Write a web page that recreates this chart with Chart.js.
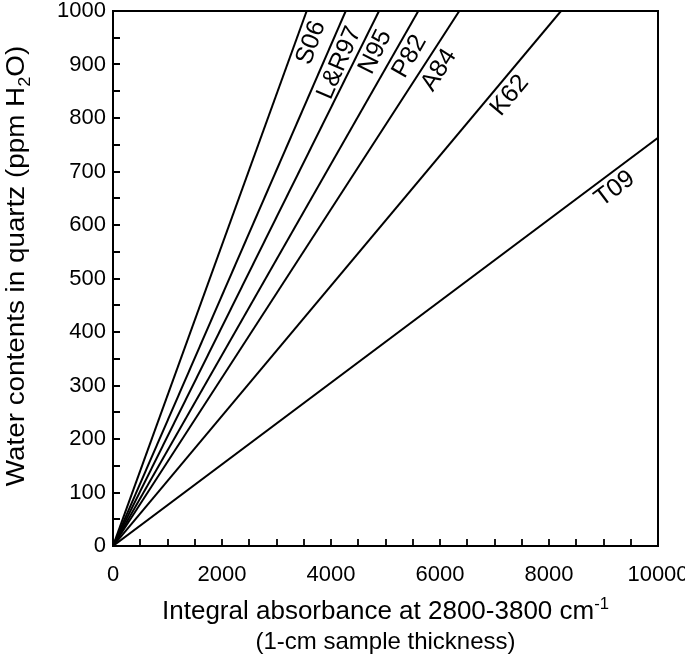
<!DOCTYPE html>
<html>
<head>
<meta charset="utf-8">
<script src="https://cdn.jsdelivr.net/npm/chart.js@4/dist/chart.umd.min.js"></script>
<style>
  html, body { margin: 0; padding: 0; background: #fff; }
  #wrap { width: 685px; height: 666px; }
</style>
</head>
<body>
<div id="wrap"><canvas id="c" width="685" height="666"></canvas></div>
<script>
// ---- data ----
const seriesNames = ['S06', 'L&R97', 'N95', 'P82', 'A84', 'K62', 'T09'];
// end point of each calibration line (start point is the origin)
const endX = [3554, 4270, 4881, 5602, 6354, 8220, 10000];
const endY = [1000, 1000, 1000, 1000, 1000, 1000, 763];
// label anchor along each line, in water-content units
const labelAtY = [950, 914, 936, 929, 905, 860, 690];

const xTickLabels = [0, 2000, 4000, 6000, 8000, 10000];
const yTickLabels = [0, 100, 200, 300, 400, 500, 600, 700, 800, 900, 1000];
const xMinorStep = 500;
const yMinorStep = 50;

const FONT = "'Liberation Sans', Arial, Helvetica, sans-serif";

const datasets = seriesNames.map((name, i) => ({
  label: name,
  data: [{ x: 0, y: 0 }, { x: endX[i], y: endY[i] }],
  borderColor: '#000',
  borderWidth: 2,
  pointRadius: 0,
  fill: false,
  tension: 0
}));

function drawRich(ctx, parts, cx, cy, baseSize, stretch) {
  const fontFor = p => (p.s === 'n' ? baseSize : Math.round(baseSize * 0.65)) + 'px ' + FONT;
  let total = 0;
  parts.forEach(p => { ctx.font = fontFor(p); p.w = ctx.measureText(p.t).width; total += p.w; });
  ctx.save();
  ctx.translate(cx, cy);
  ctx.scale(stretch, 1);
  let x = -total / 2;
  ctx.textBaseline = 'alphabetic';
  ctx.textAlign = 'left';
  parts.forEach(p => {
    ctx.font = fontFor(p);
    let dy = 0;
    if (p.s === 'sub') dy = baseSize * 0.22;
    if (p.s === 'sup') dy = -baseSize * 0.42;
    ctx.fillText(p.t, x, dy);
    x += p.w;
  });
  ctx.restore();
}

const decor = {
  id: 'decor',
  afterDatasetsDraw(chart) {
    const { ctx, chartArea: a, scales: { x, y } } = chart;
    ctx.save();
    ctx.strokeStyle = '#000';
    ctx.fillStyle = '#000';
    // frame
    ctx.lineWidth = 2;
    ctx.strokeRect(a.left, a.top, a.right - a.left, a.bottom - a.top);
    // inward ticks
    ctx.lineWidth = 1.8;
    ctx.beginPath();
    for (let v = x.min + xMinorStep; v < x.max; v += xMinorStep) {
      const px = Math.round(x.getPixelForValue(v));
      ctx.moveTo(px, a.bottom); ctx.lineTo(px, a.bottom - 7);
    }
    for (let v = y.min + yMinorStep; v < y.max; v += yMinorStep) {
      const py = Math.round(y.getPixelForValue(v));
      ctx.moveTo(a.left, py); ctx.lineTo(a.left + 7, py);
    }
    ctx.stroke();

    // line labels
    const ox = x.getPixelForValue(0), oy = y.getPixelForValue(0);
    chart.data.datasets.forEach((ds, i) => {
      const ex = x.getPixelForValue(endX[i]), ey = y.getPixelForValue(endY[i]);
      const ang = Math.atan2(oy - ey, ex - ox);
      const ly = labelAtY[i];
      const lx = endX[i] * ly / endY[i];
      const px = x.getPixelForValue(lx), py = y.getPixelForValue(ly);
      const off = 14;
      const cx = px + off * Math.sin(ang), cy = py + off * Math.cos(ang);
      ctx.save();
      ctx.translate(cx, cy);
      ctx.rotate(-ang);
      ctx.font = '25px ' + FONT;
      ctx.textAlign = 'center';
      ctx.textBaseline = 'middle';
      ctx.fillText(ds.label, 0, 1);
      ctx.restore();
    });

    // axis titles
    const midX = (a.left + a.right) / 2;
    drawRich(ctx, [{ t: 'Integral absorbance at 2800-3800 cm', s: 'n' }, { t: '-1', s: 'sup' }],
      midX, 619, 25, 1.04);
    drawRich(ctx, [{ t: '(1-cm sample thickness)', s: 'n' }], midX, 649, 24, 1.0);

    ctx.save();
    ctx.translate(24, 266);
    ctx.rotate(-Math.PI / 2);
    drawRich(ctx, [{ t: 'Water contents in quartz (ppm H', s: 'n' }, { t: '2', s: 'sub' }, { t: 'O)', s: 'n' }],
      0, 0, 26, 1.07);
    ctx.restore();
    ctx.restore();
  }
};

new Chart(document.getElementById('c'), {
  type: 'line',
  data: { datasets },
  options: {
    responsive: false,
    animation: false,
    devicePixelRatio: 1,
    layout: { padding: { top: 11, right: 27, left: 0, bottom: 0 } },
    plugins: { legend: { display: false }, tooltip: { enabled: false } },
    scales: {
      x: {
        type: 'linear',
        min: 0, max: 10000,
        afterBuildTicks: s => { s.ticks = xTickLabels.map(v => ({ value: v })); },
        afterFit: s => { s.height = 120; s.paddingLeft = 0; s.paddingRight = 0; },
        grid: { display: false, drawTicks: false },
        border: { display: false },
        ticks: { color: '#000', font: { family: FONT, size: 22 }, padding: 16, maxRotation: 0, autoSkip: false,
                 callback: v => String(v) }
      },
      y: {
        type: 'linear',
        min: 0, max: 1000,
        afterBuildTicks: s => { s.ticks = yTickLabels.map(v => ({ value: v })); },
        afterFit: s => { s.width = 113; s.paddingTop = 0; s.paddingBottom = 0; },
        grid: { display: false, drawTicks: false },
        border: { display: false },
        ticks: { color: '#000', font: { family: FONT, size: 22 }, padding: 7, autoSkip: false,
                 callback: v => String(v) }
      }
    }
  },
  plugins: [decor]
});
</script>
</body>
</html>
